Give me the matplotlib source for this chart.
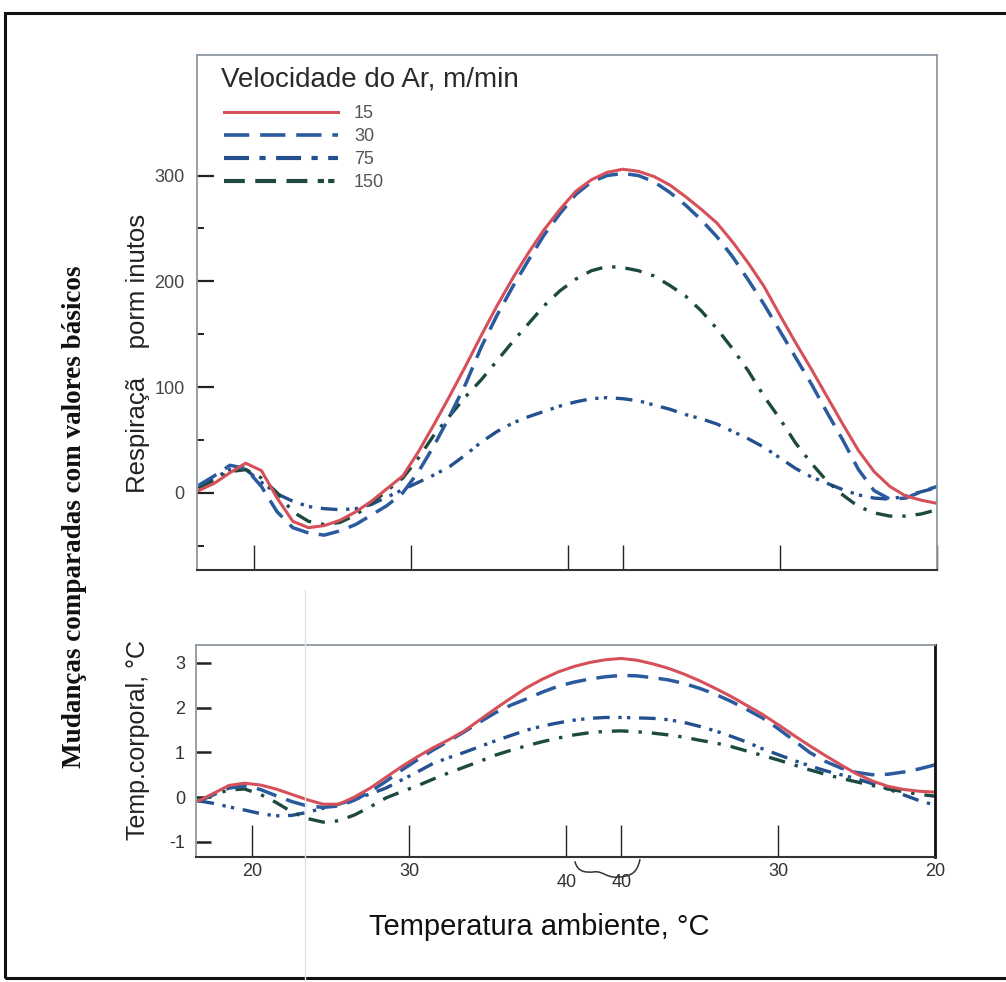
import matplotlib
matplotlib.use('Agg')
import matplotlib.pyplot as plt
from matplotlib.lines import Line2D
from matplotlib.patches import Rectangle, PathPatch
from matplotlib.path import Path
import matplotlib.transforms as mtransforms

plt.rcParams['font.family'] = ['Liberation Sans', 'DejaVu Sans']

# ---------------- data ----------------
# position along the exposure: ambient temperature rises 20->40, holds 40, falls 40->20
x_pos = [16.5, 17.5, 18.5, 19.5, 20.5, 21.5, 22.5, 23.5, 24.5, 25.5, 26.5, 27.5,
         28.5, 29.5, 30.5, 31.5, 32.5, 33.5, 34.5, 35.5, 36.5, 37.5, 38.5, 39.5,
         40.5, 41.5, 42.5, 43.5, 44.5, 45.5, 46.5, 47.5, 48.5, 49.5, 50.5, 51.5,
         52.5, 53.5, 54.5, 55.5, 56.5, 57.5, 58.5, 59.5, 60.5, 61.5, 62.5, 63.5]

series_labels = ['15', '30', '75', '150']
legend_title = 'Velocidade do Ar, m/min'

# respiration change, per minute
resp_15 = [2, 9, 19, 28, 21, -5, -27, -33, -31, -26, -18, -8,
           4, 16, 39, 65, 92, 120, 149, 177, 203, 227, 249, 268,
           285, 296, 303, 306, 304, 299, 291, 280, 268, 255, 237, 217,
           195, 168, 142, 117, 91, 65, 40, 20, 6, -3, -7, -10]
resp_30 = [7, 16, 26, 23, 6, -18, -33, -38, -40, -36, -30, -21,
           -12, 0, 20, 45, 73, 103, 138, 168, 195, 220, 244, 264,
           282, 294, 300, 302, 300, 294, 284, 272, 258, 242, 223, 201,
           178, 153, 128, 103, 76, 50, 22, 2, -6, -5, 1, 6]
resp_75 = [4, 12, 20, 22, 14, 0, -18, -27, -30, -28, -21, -10,
           2, 14, 33, 55, 73, 91, 107, 125, 143, 160, 177, 191,
           202, 210, 214, 213, 210, 205, 196, 186, 172, 155, 136, 115,
           91, 70, 47, 28, 11, -2, -13, -19, -22, -22, -20, -16]
resp_150 = [5, 14, 22, 22, 10, -1, -8, -13, -15, -16, -15, -11,
            -4, 3, 10, 17, 25, 36, 48, 58, 66, 72, 77, 82,
            86, 89, 90, 89, 87, 83, 79, 74, 70, 65, 58, 51,
            43, 33, 23, 15, 9, 3, -2, -5, -6, -3, 1, 5]

# body temperature change, deg C
temp_15 = [-0.1, 0.08, 0.26, 0.31, 0.27, 0.18, 0.06, -0.06, -0.16, -0.16, 0.0, 0.2,
           0.44, 0.68, 0.9, 1.1, 1.28, 1.48, 1.73, 1.98, 2.22, 2.45, 2.64, 2.8,
           2.92, 3.01, 3.07, 3.1, 3.06, 2.98, 2.88, 2.75, 2.6, 2.43, 2.25, 2.05,
           1.85, 1.62, 1.38, 1.15, 0.93, 0.72, 0.52, 0.36, 0.24, 0.17, 0.13, 0.11]
temp_30 = [-0.1, 0.05, 0.2, 0.25, 0.17, 0.03, -0.1, -0.2, -0.23, -0.2, -0.07, 0.12,
           0.35, 0.6, 0.83, 1.05, 1.25, 1.46, 1.68, 1.89, 2.06, 2.2, 2.35, 2.48,
           2.57, 2.64, 2.69, 2.72, 2.71, 2.67, 2.62, 2.54, 2.43, 2.3, 2.14, 1.96,
           1.77, 1.53, 1.27, 1.0, 0.8, 0.65, 0.55, 0.5, 0.51, 0.56, 0.63, 0.72]
temp_75 = [-0.1, 0.05, 0.16, 0.18, 0.06, -0.12, -0.33, -0.48, -0.56, -0.53, -0.4, -0.22,
           -0.02, 0.12, 0.25, 0.4, 0.54, 0.67, 0.8, 0.94, 1.05, 1.15, 1.24, 1.32,
           1.39, 1.44, 1.47, 1.48, 1.46, 1.43, 1.39, 1.34, 1.27, 1.21, 1.13, 1.03,
           0.93, 0.83, 0.72, 0.61, 0.51, 0.42, 0.34, 0.26, 0.18, 0.12, 0.06, 0.02]
temp_150 = [-0.08, -0.14, -0.22, -0.29, -0.37, -0.42, -0.41, -0.34, -0.25, -0.16, -0.05, 0.07,
            0.2, 0.38, 0.56, 0.75, 0.88, 1.0, 1.13, 1.26, 1.38, 1.5, 1.59, 1.66,
            1.72, 1.76, 1.78, 1.78, 1.77, 1.76, 1.73, 1.67, 1.58, 1.48, 1.36, 1.23,
            1.08, 0.95, 0.82, 0.7, 0.59, 0.5, 0.41, 0.3, 0.18, 0.05, -0.08, -0.18]

xtick_major = [20, 30, 53.5, 63.5]
xtick_major_labels = ['20', '30', '30', '20']
xtick_minor = [40, 43.5]
xtick_minor_labels = ['40', '40']

resp_ticks = [0, 100, 200, 300]
resp_minor = [-50, 50, 150, 250]
temp_ticks = [-1, 0, 1, 2, 3]
temp_tick_labels = ['-1', '0', '1', '2', '3']

# ---------------- styles ----------------
RED = '#d6505a'
BLUE = '#2b5b9f'
BLUE2 = '#24508f'
GREEN = '#1d4a40'
styles = {
    '15': dict(color=RED, lw=2.2, ls='-'),
    '30': dict(color=BLUE, lw=2.5, dashes=(6, 3)),
    '75': dict(color=GREEN, lw=2.4, dashes=(5, 3, 1, 3)),
    '150': dict(color=BLUE2, lw=2.4, dashes=(5, 2.6, 1, 1.6, 1, 2.6)),
}

W, H = 1006, 982
fig = plt.figure(figsize=(W / 100, H / 100), dpi=100)
fig.patch.set_facecolor('white')

# outer frame of the scanned figure and the faint scan crease
fig.patches.append(Rectangle((5 / W, 1 - 978 / H), 1.2, (978 - 13) / H,
                             transform=fig.transFigure, fill=False, lw=2.2, ec='#111111'))
fig.add_artist(Line2D([305 / W, 305 / W], [0, 1 - 590 / H], transform=fig.transFigure,
                      color='#e2e2e2', lw=1.0))

ax1 = fig.add_axes([197 / W, 1 - 570 / H, 740 / W, 515 / H])
ax2 = fig.add_axes([196 / W, 1 - 857 / H, 739 / W, 212 / H])
ax1.patch.set_alpha(0)
ax2.patch.set_alpha(0)

resp = {'15': resp_15, '30': resp_30, '75': resp_75, '150': resp_150}
temp = {'15': temp_15, '30': temp_30, '75': temp_75, '150': temp_150}
order = ['150', '75', '30', '15']
for k in order:
    ax1.plot(x_pos, resp[k], solid_capstyle='round', dash_capstyle='butt',
             solid_joinstyle='round', **styles[k])
    ax2.plot(x_pos, temp[k], solid_capstyle='round', dash_capstyle='butt',
             solid_joinstyle='round', **styles[k])

for ax in (ax1, ax2):
    ax.set_xlim(16.4, 63.5)
    for s in ('left', 'top', 'right'):
        ax.spines[s].set_color('#8f98a3')
        ax.spines[s].set_linewidth(1.3)
    ax.spines['bottom'].set_color('#333333')
    ax.spines['bottom'].set_linewidth(1.5)
    ax.set_xticks(xtick_major)
    ax.set_xticks(xtick_minor, minor=True)
    ax.tick_params(axis='x', which='both', direction='in', color='#222222', width=1.0,
                   top=False)
    ax.tick_params(axis='y', which='both', direction='in', color='#222222', right=False)

ax2.spines['right'].set_color('#111111')
ax2.spines['right'].set_linewidth(2.0)

ax1.set_ylim(-73, 414)
ax1.set_yticks(resp_ticks)
ax1.set_yticks(resp_minor, minor=True)
ax1.set_yticklabels([str(t) for t in resp_ticks], fontsize=13, color='#444444')
ax1.tick_params(axis='y', which='major', length=12, width=1.6, pad=9)
ax1.tick_params(axis='y', which='minor', length=5, width=1.4)
ax1.tick_params(axis='x', which='both', length=18, labelbottom=False)

ax2.set_ylim(-1.34, 3.40)
ax2.set_yticks(temp_ticks)
ax2.set_yticklabels(temp_tick_labels, fontsize=13, color='#333333')
ax2.tick_params(axis='y', which='major', length=11, width=1.8, pad=8)
ax2.tick_params(axis='x', which='both', length=23)
ax2.set_xticklabels(xtick_major_labels, fontsize=13, color='#333333')
ax2.set_xticklabels(xtick_minor_labels, minor=True, fontsize=13, color='#333333')
ax2.tick_params(axis='x', which='major', pad=4)
ax2.tick_params(axis='x', which='minor', pad=12)

# curly brace joining the two "40" marks
bt = mtransforms.blended_transform_factory(ax2.transData, ax2.transAxes)
brace = Path([(40.55, -0.02), (40.7, -0.07), (41.2, -0.075), (41.8, -0.07),
              (42.3, -0.065), (42.6, -0.10), (43.3, -0.095),
              (44.0, -0.09), (44.5, -0.085), (44.7, -0.01)],
             [Path.MOVETO, Path.CURVE4, Path.CURVE4, Path.CURVE4,
              Path.CURVE4, Path.CURVE4, Path.CURVE4,
              Path.CURVE4, Path.CURVE4, Path.CURVE4])
ax2.add_patch(PathPatch(brace, transform=bt, fill=False, lw=1.1, ec='#333333',
                        clip_on=False))

# legend, drawn with the key styles printed in the original
leg_handles = [
    Line2D([], [], color=RED, lw=2.2),
    Line2D([], [], color=BLUE, lw=2.6, dashes=(7, 3)),
    Line2D([], [], color=BLUE2, lw=3.0, dashes=(6, 2.5, 1.5, 2.5)),
    Line2D([], [], color=GREEN, lw=3.0, dashes=(5, 2.5, 5, 2.5, 5, 2.5, 1.5, 1, 1.5, 2.5)),
]
leg = ax1.legend(leg_handles, series_labels, loc='upper left',
                 bbox_to_anchor=(0.0365, 0.903), frameon=False, fontsize=13,
                 handlelength=6.3, handletextpad=0.9,
                 labelspacing=0.33, borderpad=0, borderaxespad=0)
for t in leg.get_texts():
    t.set_color('#555555')
ax1.text(0.033, (570 - 79) / 515, legend_title, transform=ax1.transAxes,
         ha='left', va='center', fontsize=20, color='#2a2a2a')

# axis labels
ax1.set_ylabel('Respiraçã    porm inutos', fontsize=18.5, color='#222222')
ax1.yaxis.set_label_coords(-0.064, 0.42)
ax2.set_ylabel('Temp.corporal, °C', fontsize=18, color='#222222')
ax2.yaxis.set_label_coords(-0.062, 0.55)
ax2.set_xlabel('Temperatura ambiente, °C', fontsize=21, color='#111111')
ax2.xaxis.set_label_coords(0.465, -0.265)

fig.text(75 / W, 1 - 517 / H, 'Mudanças comparadas com valores básicos', rotation=90,
         ha='center', va='center', fontsize=19.5, fontweight='bold',
         family=['Liberation Serif', 'DejaVu Serif'], color='#111111')

fig.savefig('out.png', dpi=100, facecolor='white')
